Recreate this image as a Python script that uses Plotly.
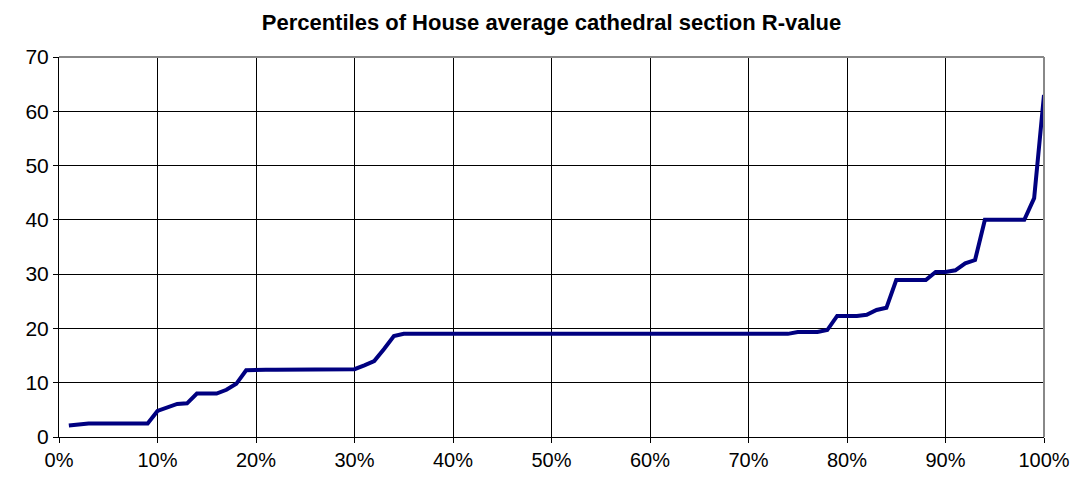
import plotly.graph_objects as go

title = "Percentiles of House average cathedral section R-value"

percentiles = list(range(1, 101))
r_values = [
    2.1, 2.3, 2.5, 2.5, 2.5, 2.5, 2.5, 2.5, 2.5, 4.8,
    5.4, 6.1, 6.2, 8.0, 8.0, 8.0, 8.7, 9.8, 12.3, 12.4,
    12.4, 12.4, 12.4, 12.4, 12.4, 12.4, 12.4, 12.4, 12.4, 12.5,
    13.2, 14.0, 16.2, 18.6, 19.0, 19.0, 19.0, 19.0, 19.0, 19.0,
    19.0, 19.0, 19.0, 19.0, 19.0, 19.0, 19.0, 19.0, 19.0, 19.0,
    19.0, 19.0, 19.0, 19.0, 19.0, 19.0, 19.0, 19.0, 19.0, 19.0,
    19.0, 19.0, 19.0, 19.0, 19.0, 19.0, 19.0, 19.0, 19.0, 19.0,
    19.0, 19.0, 19.0, 19.0, 19.35, 19.35, 19.35, 19.7, 22.3, 22.3,
    22.3, 22.5, 23.4, 23.8, 28.9, 28.9, 28.9, 28.9, 30.4, 30.4,
    30.7, 32.0, 32.6, 40.0, 40.0, 40.0, 40.0, 40.0, 44.0, 63.0,
]

x_ticks = list(range(0, 101, 10))
x_tick_labels = [f"{v}%" for v in x_ticks]
y_ticks = list(range(0, 71, 10))

fig = go.Figure()
fig.add_trace(go.Scatter(
    x=percentiles, y=r_values, mode="lines",
    line=dict(color="#000080", width=4),
    showlegend=False, hoverinfo="x+y",
))

font_family = "Liberation Sans, Arial, sans-serif"

fig.update_layout(
    width=1074, height=475,
    margin=dict(l=51, r=35, t=49, b=45),
    paper_bgcolor="white", plot_bgcolor="white",
    title=dict(text="<b>" + title + "</b>", x=0.5, xref="paper", xanchor="center",
               y=1 - 14 / 475, yanchor="middle",
               font=dict(family=font_family, size=22, color="black")),
    font=dict(family=font_family, color="black"),
)

fig.update_xaxes(
    range=[0, 100], tickvals=x_ticks, ticktext=x_tick_labels,
    showgrid=True, gridcolor="#000000", gridwidth=1,
    showline=True, linecolor="#000000", linewidth=1,
    ticks="outside", ticklen=5, tickcolor="#000000",
    tickfont=dict(family=font_family, size=20, color="black"),
    zeroline=False,
)
fig.update_yaxes(
    range=[0, 70], tickvals=y_ticks,
    showgrid=True, gridcolor="#000000", gridwidth=1,
    showline=True, linecolor="#000000", linewidth=1,
    ticks="outside", ticklen=5, tickcolor="#000000",
    tickfont=dict(family=font_family, size=21, color="black"),
    zeroline=False,
)

fig.add_shape(type="line", xref="paper", yref="paper", x0=0, x1=1, y0=1, y1=1,
              line=dict(color="#888888", width=2))
fig.add_shape(type="line", xref="paper", yref="paper", x0=1, x1=1, y0=0, y1=1,
              line=dict(color="#888888", width=2))

fig.write_html("out.html")
